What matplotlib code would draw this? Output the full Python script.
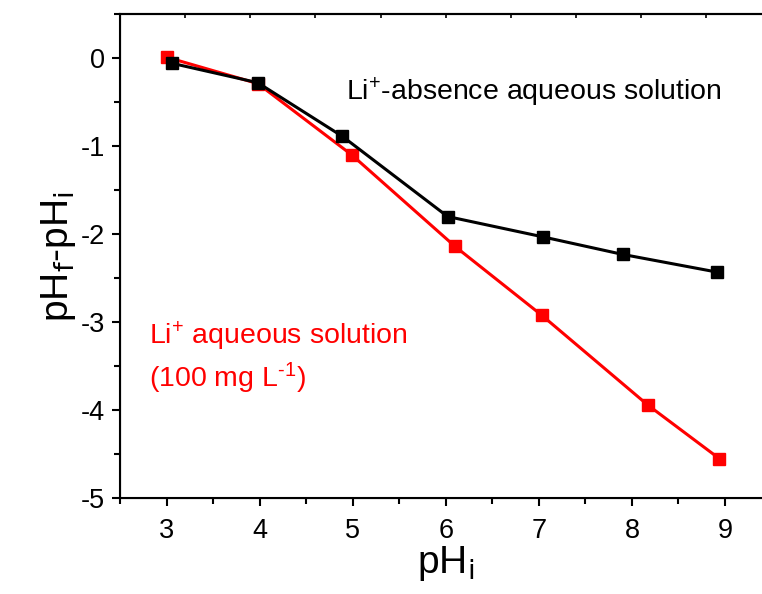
import matplotlib
matplotlib.use('Agg')
import matplotlib.pyplot as plt
from matplotlib.ticker import MultipleLocator

plt.rcParams['font.family'] = ['Liberation Sans', 'DejaVu Sans']
plt.rcParams['mathtext.fontset'] = 'custom'
plt.rcParams['mathtext.rm'] = 'Liberation Sans'
plt.rcParams['mathtext.default'] = 'regular'
plt.rcParams['axes.unicode_minus'] = False

# data
ph_i_black = [3.06, 3.98, 4.89, 6.02, 7.04, 7.90, 8.91]
dph_black = [-0.06, -0.28, -0.89, -1.80, -2.03, -2.23, -2.43]

ph_i_red = [3.00, 3.98, 4.99, 6.10, 7.03, 8.17, 8.94]
dph_red = [0.01, -0.29, -1.10, -2.14, -2.92, -3.94, -4.55]

fig = plt.figure(figsize=(7.62, 5.94), dpi=100)
# axes runs slightly past the right edge (cropped like the original)
ax = fig.add_axes([0.1575, 0.1611, 0.855, 0.8153])

lww = 2.2
ax.plot(ph_i_red, dph_red, color='#ff0000', marker='s', markersize=9,
        linewidth=lww, zorder=3)
ax.plot(ph_i_black, dph_black, color='black', marker='s', markersize=9,
        linewidth=lww, zorder=4)

ax.set_xlim(2.5, 9.5)
ax.set_ylim(-5, 0.5)
ax.xaxis.set_minor_locator(MultipleLocator(0.5))
ax.yaxis.set_minor_locator(MultipleLocator(0.5))
ax.set_xticks([3, 4, 5, 6, 7, 8, 9])
ax.set_yticks([0, -1, -2, -3, -4, -5])
ax.tick_params(which='major', direction='out', length=6, width=1.5,
               labelsize=19.5)
ax.tick_params(which='minor', direction='out', length=4, width=1.5)
ax.tick_params(axis='x', pad=8)
ax.tick_params(axis='y', pad=5)
ax.spines['right'].set_visible(False)
for s in ['left', 'bottom', 'top']:
    ax.spines[s].set_linewidth(1.5)

# top axis: unlabelled ticks pointing inwards
top = ax.twiny()
top.set_xlim(0, 10)
top.xaxis.set_major_locator(MultipleLocator(1))
top.tick_params(axis='x', direction='in', length=3, width=1.2,
                labeltop=False)
top.spines['right'].set_visible(False)
top.spines['top'].set_linewidth(1.5)

ax.set_xlabel(r'pH$_{\mathsf{i}}$', fontsize=28, labelpad=0)
ax.set_ylabel(r'pH$_{\mathsf{f}}$-pH$_{\mathsf{i}}$', fontsize=28, labelpad=2)

ax.text(4.93, -0.48, r'Li$^{+}$-absence aqueous solution', fontsize=20.5,
        color='black')
ax.text(2.81, -3.25, r'Li$^{+}$ aqueous solution', fontsize=20.5,
        color='#ff0000')
ax.text(2.81, -3.74, r'(100 mg L$^{\text{-1}}$)', fontsize=20.5, color='#ff0000')

plt.savefig('out.png', dpi=100)
